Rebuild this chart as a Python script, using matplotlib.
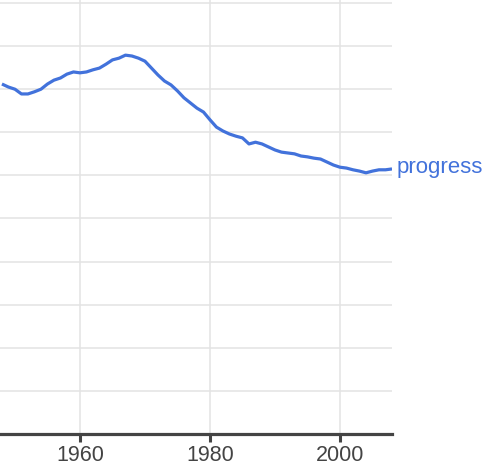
import matplotlib
matplotlib.use("Agg")
import matplotlib.pyplot as plt

years = list(range(1948, 2009))
progress = [8.12, 8.05, 8.00, 7.89, 7.89, 7.94, 8.00, 8.12, 8.21, 8.26,
            8.35, 8.40, 8.38, 8.40, 8.45, 8.49, 8.58, 8.68, 8.72, 8.79,
            8.77, 8.72, 8.65, 8.49, 8.33, 8.19, 8.10, 7.96, 7.80, 7.68,
            7.56, 7.47, 7.29, 7.12, 7.03, 6.96, 6.91, 6.87, 6.73, 6.77,
            6.73, 6.66, 6.59, 6.54, 6.52, 6.50, 6.45, 6.43, 6.40, 6.38,
            6.31, 6.24, 6.19, 6.17, 6.13, 6.10, 6.06, 6.10, 6.13, 6.13,
            6.15]
series_label = "progress"
xticks = [1960, 1980, 2000]
ygrid = list(range(0, 11))

line_color = "#4272DB"
plt.rcParams['font.family'] = ['Liberation Sans', 'DejaVu Sans']

fig = plt.figure(figsize=(4.96, 4.73), dpi=100)
ax = fig.add_axes([0, 39/473, 392/496, 434/473])
ax.set_xlim(1947.7, 2008.0)
ax.set_ylim(0, 434/43.1)

for v in ygrid[1:]:
    ax.axhline(v, color="#e3e3e3", lw=1.1, zorder=0)
for xt in xticks:
    ax.axvline(xt, color="#e3e3e3", lw=1.1, zorder=0)

ax.plot(years, progress, color=line_color, lw=2.3, solid_capstyle='butt', zorder=3)
ax.text(years[-1] + 0.75, progress[-1] + 0.04, series_label, color=line_color,
        fontsize=16, va='center', ha='left', clip_on=False)

for s in ['top', 'right', 'left']:
    ax.spines[s].set_visible(False)
ax.spines['bottom'].set_color('#444444')
ax.spines['bottom'].set_linewidth(2.3)
ax.set_yticks([])
ax.set_xticks(xticks)
ax.set_xticklabels([str(t) for t in xticks])
ax.tick_params(axis='x', length=6, width=2.2, color='#444444', labelcolor='#444444',
               labelsize=15.5, pad=2)

fig.savefig("out.png", dpi=100)
